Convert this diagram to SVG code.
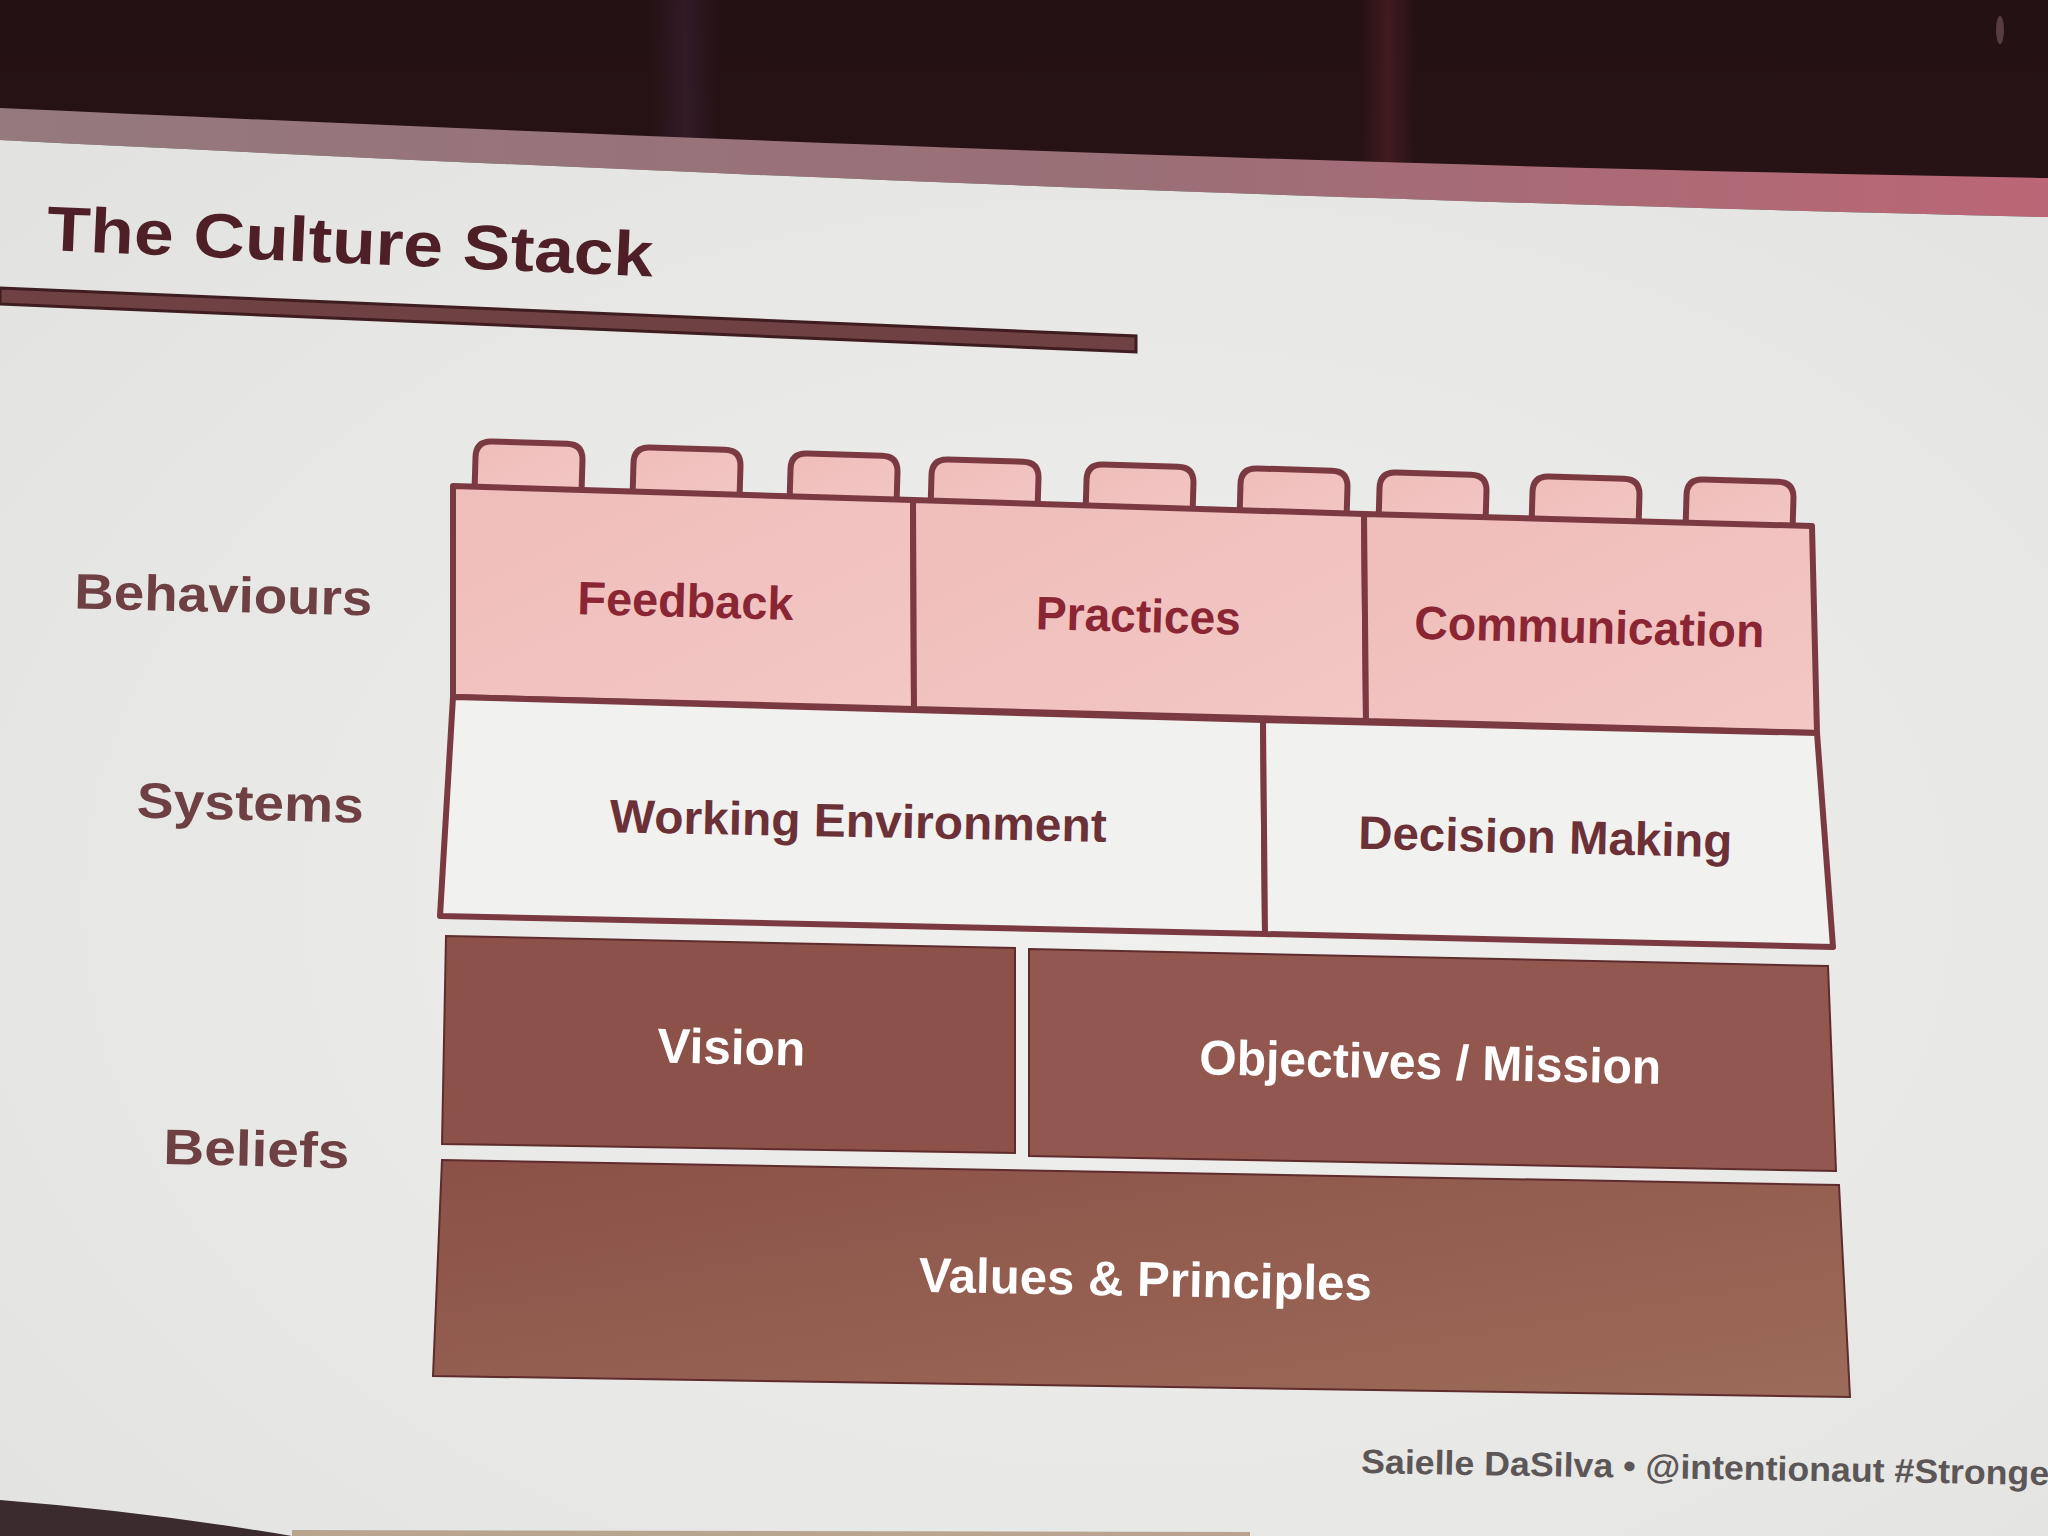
<svg xmlns="http://www.w3.org/2000/svg" width="2048" height="1536" viewBox="0 0 2048 1536">
  <defs>
    <style>
      .sans { font-family: "Liberation Sans", Arial, sans-serif; font-weight: 700; }
      .title { fill: #4e1f26; font-size: 63px; }
      .layer { fill: #6e4044; font-size: 50px; }
      .top-txt { fill: #8a2533; font-size: 47px; }
      .sys-txt { fill: #6c3037; font-size: 47px; }
      .base-txt { fill: #ffffff; font-size: 49px; }
      .footer { fill: #5c5656; font-size: 34px; }
      .brick { stroke: #7b3a41; stroke-width: 6; stroke-linejoin: round; }
      .pink { fill: url(#pinkFill); }
      .white { fill: #f1f1ef; }
      .dark { stroke: #5e2c2c; stroke-width: 2; }
    </style>
    <linearGradient id="bandFill" x1="0" y1="0" x2="1" y2="0">
      <stop offset="0" stop-color="#94797d"/>
      <stop offset="0.55" stop-color="#9a6f76"/>
      <stop offset="1" stop-color="#bb6676"/>
    </linearGradient>
    <linearGradient id="darkTop" x1="0" y1="0" x2="0" y2="1">
      <stop offset="0" stop-color="#241113"/>
      <stop offset="1" stop-color="#3c1c21"/>
    </linearGradient>
    <radialGradient id="slideFill" cx="0.55" cy="0.55" r="0.75">
      <stop offset="0" stop-color="#f0f0ee"/>
      <stop offset="1" stop-color="#e2e2e0"/>
    </radialGradient>
    <linearGradient id="pinkFill" x1="0" y1="0" x2="1" y2="1">
      <stop offset="0" stop-color="#efbdba"/>
      <stop offset="1" stop-color="#f3c7c4"/>
    </linearGradient>
    <linearGradient id="beliefFill" x1="0" y1="0" x2="1" y2="1">
      <stop offset="0" stop-color="#8b5148"/>
      <stop offset="1" stop-color="#9c6b59"/>
    </linearGradient>
    <linearGradient id="curtainA" x1="0" y1="0" x2="1" y2="0">
      <stop offset="0" stop-color="#4a2a4a" stop-opacity="0"/>
      <stop offset="0.5" stop-color="#4a2a4a" stop-opacity="0.35"/>
      <stop offset="1" stop-color="#4a2a4a" stop-opacity="0"/>
    </linearGradient>
    <linearGradient id="curtainB" x1="0" y1="0" x2="1" y2="0">
      <stop offset="0" stop-color="#6a2a30" stop-opacity="0"/>
      <stop offset="0.5" stop-color="#6a2a30" stop-opacity="0.4"/>
      <stop offset="1" stop-color="#6a2a30" stop-opacity="0"/>
    </linearGradient>
    <!-- brick stud: rounded top, open bottom tucked under the brick body -->
    <path id="stud" d="M0,54 V16 Q0,0 16,0 H91 Q107,0 107,16 V54"/>
  </defs>

  <!-- room and projection screen -->
  <rect width="2048" height="1536" fill="url(#darkTop)"/>
  <rect x="650" y="0" width="70" height="190" fill="url(#curtainA)"/>
  <rect x="1360" y="0" width="56" height="200" fill="url(#curtainB)"/>
  <ellipse cx="2000" cy="30" rx="4" ry="14" fill="#8a6a6c" opacity="0.5"/>
  <path d="M0,108 C600,135 1300,165 2048,178 L2048,217 C1300,200 600,170 0,140 Z" fill="url(#bandFill)"/>
  <path d="M0,140 C600,170 1300,200 2048,217 L2048,1536 L0,1536 Z" fill="url(#slideFill)"/>
  <path d="M0,1500 Q150,1512 292,1536 L0,1536 Z" fill="#3b2b2f"/>
  <path d="M292,1530 L1250,1532 L1250,1536 L292,1536 Z" fill="#b9a58f"/>

  <!-- heading -->
  <g id="heading">
    <text class="sans title" x="46" y="250" textLength="607" lengthAdjust="spacingAndGlyphs" transform="rotate(2.5 46 250)">The Culture Stack</text>
    <path d="M0,288 L1136,336 L1136,352 L0,304 Z" fill="#6f4142" stroke="#3e1c20" stroke-width="3"/>
  </g>

  <!-- layer labels -->
  <g id="label-behaviours">
    <text class="sans layer" x="223" y="612" text-anchor="middle" textLength="298" lengthAdjust="spacingAndGlyphs" transform="rotate(1.3 223 612)">Behaviours</text>
  </g>
  <g id="label-systems">
    <text class="sans layer" x="250" y="820" text-anchor="middle" textLength="227" lengthAdjust="spacingAndGlyphs" transform="rotate(1.3 250 820)">Systems</text>
  </g>
  <g id="label-beliefs">
    <text class="sans layer" x="256" y="1166" text-anchor="middle" textLength="186" lengthAdjust="spacingAndGlyphs" transform="rotate(1.3 256 1166)">Beliefs</text>
  </g>

  <!-- studs along the top of the behaviours row -->
  <g id="studs" class="brick pink">
    <use href="#stud" transform="translate(476 441) rotate(1.7)"/>
    <use href="#stud" transform="translate(634 447) rotate(1.7)"/>
    <use href="#stud" transform="translate(791 453) rotate(1.7)"/>
    <use href="#stud" transform="translate(932 459) rotate(1.7)"/>
    <use href="#stud" transform="translate(1087 464) rotate(1.7)"/>
    <use href="#stud" transform="translate(1241 468) rotate(1.7)"/>
    <use href="#stud" transform="translate(1380 472) rotate(1.7)"/>
    <use href="#stud" transform="translate(1533 476) rotate(1.7)"/>
    <use href="#stud" transform="translate(1687 479) rotate(1.7)"/>
  </g>

  <!-- behaviours row -->
  <g id="feedback">
    <polygon class="brick pink" points="453,486 913,500 914,709 453,697"/>
    <text class="sans top-txt" x="685" y="617" text-anchor="middle" textLength="216" lengthAdjust="spacingAndGlyphs" transform="rotate(1.5 685 617)">Feedback</text>
  </g>
  <g id="practices">
    <polygon class="brick pink" points="913,500 1364,514 1366,721 914,709"/>
    <text class="sans top-txt" x="1138" y="632" text-anchor="middle" textLength="205" lengthAdjust="spacingAndGlyphs" transform="rotate(1.5 1138 632)">Practices</text>
  </g>
  <g id="communication">
    <polygon class="brick pink" points="1364,514 1812,526 1817,733 1366,721"/>
    <text class="sans top-txt" x="1589" y="643" text-anchor="middle" textLength="350" lengthAdjust="spacingAndGlyphs" transform="rotate(1.4 1589 643)">Communication</text>
  </g>

  <!-- systems row -->
  <g id="working-environment">
    <polygon class="brick white" points="453,697 1263,720 1265,934 440,916"/>
    <text class="sans sys-txt" x="858" y="837" text-anchor="middle" textLength="497" lengthAdjust="spacingAndGlyphs" transform="rotate(1.1 858 837)">Working Environment</text>
  </g>
  <g id="decision-making">
    <polygon class="brick white" points="1263,720 1817,733 1833,947 1265,934"/>
    <text class="sans sys-txt" x="1545" y="853" text-anchor="middle" textLength="374" lengthAdjust="spacingAndGlyphs" transform="rotate(1.3 1545 853)">Decision Making</text>
  </g>

  <!-- beliefs rows -->
  <g id="vision">
    <polygon class="dark" fill="#8c5148" points="446,936 1015,948 1015,1153 442,1144"/>
    <text class="sans base-txt" x="731" y="1064" text-anchor="middle" textLength="148" lengthAdjust="spacingAndGlyphs" transform="rotate(1.2 731 1064)">Vision</text>
  </g>
  <g id="objectives-mission">
    <polygon class="dark" fill="#925850" points="1029,949 1828,966 1836,1171 1029,1156"/>
    <text class="sans base-txt" x="1430" y="1079" text-anchor="middle" textLength="462" lengthAdjust="spacingAndGlyphs" transform="rotate(1.2 1430 1079)">Objectives / Mission</text>
  </g>
  <g id="values-principles">
    <polygon class="dark" fill="url(#beliefFill)" points="442,1160 1839,1185 1850,1397 433,1376"/>
    <text class="sans base-txt" x="1145" y="1296" text-anchor="middle" textLength="453" lengthAdjust="spacingAndGlyphs" transform="rotate(1.1 1145 1296)">Values &amp; Principles</text>
  </g>

  <!-- the stack has no connectors -->
  <g id="connectors"/>

  <!-- footer credit -->
  <g id="credit">
    <text class="sans footer" x="1361" y="1473" textLength="702" lengthAdjust="spacingAndGlyphs" transform="rotate(1 1361 1473)">Saielle DaSilva • @intentionaut #Stronger</text>
  </g>
</svg>
